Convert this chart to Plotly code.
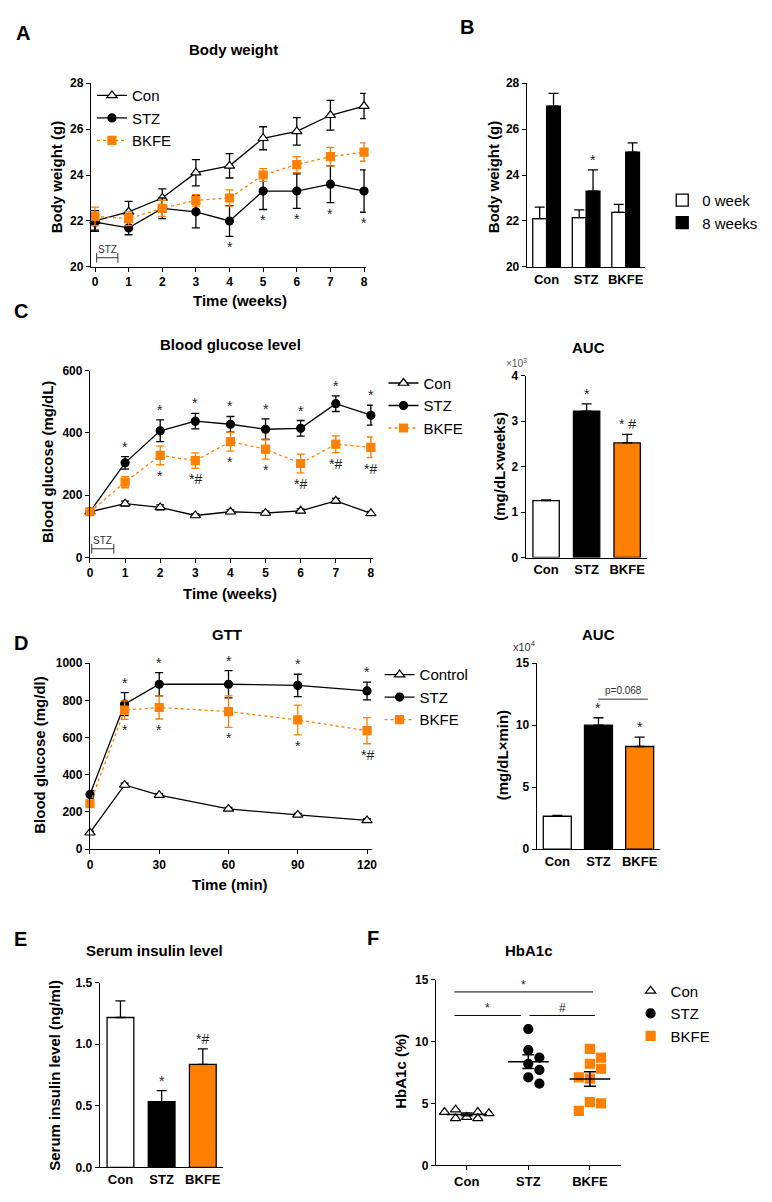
import plotly.graph_objects as go

W, H = 772, 1202
FONT = "Arial, Liberation Sans, sans-serif"
ORANGE = "#FF8000"

# ---- A: body weight over time ----
weeks = [0, 1, 2, 3, 4, 5, 6, 7, 8]
bw_con = [22.0, 22.4, 23.0, 24.1, 24.4, 25.6, 25.9, 26.6, 27.0]
bw_con_err = [0.45, 0.45, 0.4, 0.57, 0.53, 0.5, 0.6, 0.65, 0.55]
bw_stz = [21.95, 21.7, 22.55, 22.4, 22.0, 23.3, 23.3, 23.6, 23.3]
bw_stz_err = [0.35, 0.3, 0.45, 0.7, 0.67, 0.8, 0.75, 0.8, 0.92]
bw_bkfe = [22.2, 22.1, 22.55, 22.9, 23.0, 24.0, 24.45, 24.8, 25.0]
bw_bkfe_err = [0.4, 0.3, 0.35, 0.25, 0.35, 0.28, 0.35, 0.4, 0.4]
bw_sig_stz = ["", "", "", "", "*", "*", "*", "*", "*"]

# ---- B: body weight 0 vs 8 weeks ----
groups = ["Con", "STZ", "BKFE"]
bw_wk0 = [22.1, 22.15, 22.37]
bw_wk0_err = [0.5, 0.33, 0.35]
bw_wk8 = [27.0, 23.3, 25.0]
bw_wk8_err = [0.55, 0.92, 0.4]
bw_wk8_sig = ["", "*", ""]

# ---- C: blood glucose over time ----
bg_con = [147, 173, 161, 135, 147, 143, 150, 182, 142]
bg_con_err = [5, 8, 8, 6, 6, 6, 6, 8, 6]
bg_stz = [147, 304, 407, 438, 428, 412, 415, 494, 457]
bg_stz_err = [5, 20, 35, 25, 25, 33, 25, 25, 32]
bg_bkfe = [147, 242, 328, 311, 372, 348, 302, 364, 354]
bg_bkfe_err = [5, 18, 30, 25, 30, 32, 30, 27, 33]
bg_sig_stz = ["", "*", "*", "*", "*", "*", "*", "*", "*"]
bg_sig_bkfe = ["", "", "*", "*#", "*", "*", "*#", "*#", "*#"]

bg_auc = [1.25, 3.22, 2.52]
bg_auc_err = [0.02, 0.16, 0.19]
bg_auc_sig = ["", "*", "* #"]

# ---- D: GTT ----
gtt_time = [0, 15, 30, 60, 90, 120]
gtt_con = [88, 345, 290, 216, 184, 154]
gtt_con_err = [8, 10, 8, 8, 8, 8]
gtt_stz = [294, 780, 887, 887, 881, 851]
gtt_stz_err = [20, 62, 63, 73, 60, 48]
gtt_bkfe = [244, 748, 762, 740, 695, 637]
gtt_bkfe_err = [20, 50, 62, 85, 80, 70]
gtt_sig_stz = ["", "*", "*", "*", "*", "*"]
gtt_sig_bkfe = ["", "*", "*", "*", "*", "*#"]

gtt_auc = [2.65, 10.0, 8.28]
gtt_auc_err = [0.07, 0.6, 0.75]
gtt_auc_sig = ["", "*", "*"]
gtt_p_text = "p=0.068"

# ---- E: serum insulin ----
insulin = [1.216, 0.533, 0.836]
insulin_err = [0.135, 0.09, 0.126]
insulin_sig = ["", "*", "*#"]

# ---- F: HbA1c ----
hba_con = [3.9, 4.3, 3.8, 4.2, 4.3, 3.8, 4.5]
hba_stz = [11.0, 9.3, 8.7, 8.2, 7.7, 7.1, 6.6]
hba_bkfe = [9.4, 8.7, 8.2, 7.8, 7.0, 7.1, 5.1, 5.0, 4.4]


def dx(a, b):
    return [a / W, b / W]


def dy(top, bottom):
    return [1 - bottom / H, 1 - top / H]


def swarm(vals, px_cat, px_unit, mind=9.0, step=0.18):
    placed = []
    offs = []
    for v in vals:
        best, best_d = 0, -1
        for k in [0, 1, -1, 2, -2]:
            o = k * step
            d = min([(((o - po) * px_cat) ** 2 + ((v - pv) * px_unit) ** 2) ** 0.5
                     for po, pv in placed] or [99])
            if d >= mind:
                best = o
                break
            if d > best_d:
                best, best_d = o, d
        placed.append((best, v))
        offs.append(best)
    return offs


fig = go.Figure()
ann = []


def line(x, y, err, name, color, symbol, fill, dash, n, legend, size=8):
    fig.add_trace(go.Scatter(
        x=x, y=y, name=name, mode="lines+markers", legend=legend,
        xaxis="x%s" % n, yaxis="y%s" % n, cliponaxis=False,
        line=dict(color=color, width=1.3, dash=dash),
        marker=dict(symbol=symbol, size=size, color=fill, line=dict(color=color, width=1.2)),
        error_y=dict(type="data", array=err, color=color, thickness=1.3, width=4)))


def bars(x, y, err, color, n, width=0.65, offset=None, name=None, legend=None):
    fig.add_trace(go.Bar(
        x=x, y=y, width=width, offset=offset, name=name, legend=legend,
        showlegend=name is not None,
        xaxis="x%s" % n, yaxis="y%s" % n,
        marker=dict(color=color, line=dict(color="black", width=1.3)),
        error_y=dict(type="data", symmetric=False, array=err, arrayminus=[0] * len(err),
                     color="black", thickness=1.3, width=5)))


def sig(x, y, labels, n, above=True):
    for xi, yi, t in zip(x, y, labels):
        if t:
            ann.append(dict(x=xi, y=yi, xref="x%s" % n, yref="y%s" % n, text=t,
                            showarrow=False,
                            yanchor="bottom" if above else "top",
                            yshift=0 if above else -1,
                            font=dict(size=14, color="#222")))


def stz_bracket(n, yv):
    fig.add_trace(go.Scatter(
        x=[0.05, 0.68], y=[yv, yv], mode="lines+markers", showlegend=False,
        xaxis="x%s" % n, yaxis="y%s" % n, cliponaxis=False,
        line=dict(color="#333", width=1),
        marker=dict(symbol="line-ns", size=7, line=dict(color="#333", width=1))))
    ann.append(dict(x=0.36, y=yv, xref="x%s" % n, yref="y%s" % n, text="STZ",
                    showarrow=False, yanchor="bottom", yshift=1,
                    font=dict(size=10, color="#333")))


# A
line(weeks, bw_con, bw_con_err, "Con", "black", "triangle-up", "white", "solid", "", "legend", 9)
line(weeks, bw_stz, bw_stz_err, "STZ", "black", "circle", "black", "solid", "", "legend")
line(weeks, bw_bkfe, bw_bkfe_err, "BKFE", ORANGE, "square", ORANGE, "dot", "", "legend")
sig(weeks, [m - e for m, e in zip(bw_stz, bw_stz_err)], bw_sig_stz, "", above=False)
stz_bracket("", 20.4)

# B
gx = list(range(len(groups)))
bars(gx, bw_wk0, bw_wk0_err, "white", 2, width=0.35, offset=-0.35, name="0 week", legend="legend2")
bars(gx, bw_wk8, bw_wk8_err, "black", 2, width=0.35, offset=0, name="8 weeks", legend="legend2")
sig([g + 0.175 for g in gx], [m + e for m, e in zip(bw_wk8, bw_wk8_err)], bw_wk8_sig, 2)

# C
line(weeks, bg_con, bg_con_err, "Con", "black", "triangle-up", "white", "solid", 3, "legend3", 9)
line(weeks, bg_stz, bg_stz_err, "STZ", "black", "circle", "black", "solid", 3, "legend3")
line(weeks, bg_bkfe, bg_bkfe_err, "BKFE", ORANGE, "square", ORANGE, "dot", 3, "legend3")
sig(weeks, [m + e for m, e in zip(bg_stz, bg_stz_err)], bg_sig_stz, 3)
sig(weeks, [m - e for m, e in zip(bg_bkfe, bg_bkfe_err)], bg_sig_bkfe, 3, above=False)
stz_bracket(3, 28)

bars(gx, bg_auc, bg_auc_err, ["white", "black", ORANGE], 4)
sig(gx, [m + e for m, e in zip(bg_auc, bg_auc_err)], bg_auc_sig, 4)

# D
line(gtt_time, gtt_con, gtt_con_err, "Control", "black", "triangle-up", "white", "solid", 5, "legend4", 9)
line(gtt_time, gtt_stz, gtt_stz_err, "STZ", "black", "circle", "black", "solid", 5, "legend4")
line(gtt_time, gtt_bkfe, gtt_bkfe_err, "BKFE", ORANGE, "square", ORANGE, "dot", 5, "legend4")
sig(gtt_time, [m + e for m, e in zip(gtt_stz, gtt_stz_err)], gtt_sig_stz, 5)
sig(gtt_time, [m - e for m, e in zip(gtt_bkfe, gtt_bkfe_err)], gtt_sig_bkfe, 5, above=False)

bars(gx, gtt_auc, gtt_auc_err, ["white", "black", ORANGE], 6, width=0.68)
sig(gx, [m + e for m, e in zip(gtt_auc, gtt_auc_err)], gtt_auc_sig, 6)
p_y = max(m + e for m, e in zip(gtt_auc, gtt_auc_err)) + 1.5
fig.add_shape(type="line", x0=1.0, x1=2.2, y0=p_y, y1=p_y, xref="x6", yref="y6",
              line=dict(color="#333", width=1))
ann.append(dict(x=1.6, y=p_y, xref="x6", yref="y6", text=gtt_p_text, showarrow=False,
                yanchor="bottom", yshift=1, font=dict(size=10, color="#333")))

# E
bars(gx, insulin, insulin_err, ["white", "black", ORANGE], 7)
sig(gx, [m + e for m, e in zip(insulin, insulin_err)], insulin_sig, 7)

# F
f_sets = [("Con", hba_con, "triangle-up-open", "black"),
          ("STZ", hba_stz, "circle", "black"),
          ("BKFE", hba_bkfe, "square", ORANGE)]
for i, (nm, vals, sym, col) in enumerate(f_sets):
    offs = swarm(vals, 62.3, 12.55)
    fig.add_trace(go.Scatter(
        x=[i + o for o in offs], y=vals, mode="markers", name=nm, legend="legend5",
        xaxis="x8", yaxis="y8", cliponaxis=False,
        marker=dict(symbol=sym, size=9, color=col, line=dict(color=col, width=1.2))))
for i, (nm, vals, sym, col) in enumerate(f_sets):
    n = len(vals)
    m = sum(vals) / n
    sd = (sum((v - m) ** 2 for v in vals) / (n - 1)) ** 0.5
    fig.add_trace(go.Scatter(x=[i - 0.33, i + 0.33], y=[m, m], mode="lines", showlegend=False,
                             xaxis="x8", yaxis="y8", line=dict(color="black", width=1.5)))
    fig.add_trace(go.Scatter(x=[i], y=[m], mode="markers", showlegend=False,
                             xaxis="x8", yaxis="y8", marker=dict(size=1, color="rgba(0,0,0,0)"),
                             error_y=dict(type="data", array=[sd / n ** 0.5], color="black",
                                          thickness=1.5, width=6)))
# brackets: (group i, group j, level, label)
f_brackets = [(0, 2, 14.0, "*"), (0, 1, 12.1, "*"), (1, 2, 12.1, "#")]
for i, j, lv, t in f_brackets:
    x0 = i - 0.2 if i == 0 else i + 0.02
    x1 = j + 0.05 if j == 2 and i == 0 else (j + 0.08 if j == 2 else j - 0.12)
    fig.add_shape(type="line", x0=x0, x1=x1, y0=lv, y1=lv, xref="x8", yref="y8",
                  line=dict(color="black", width=1))
    ann.append(dict(x=(x0 + x1) / 2, y=lv, xref="x8", yref="y8", text=t, showarrow=False,
                    yanchor="bottom", yshift=-2, font=dict(size=12, color="#222")))

# ---- axes ----
base = dict(showline=True, linecolor="black", linewidth=1.3, ticks="outside", ticklen=4,
            tickwidth=1.3, tickcolor="black", showgrid=False, zeroline=False, fixedrange=True,
            tickfont=dict(size=12, color="black", weight="bold"))
cat = dict(base, tickvals=gx, ticktext=groups, range=[-0.5, 2.5], ticks="",
           tickfont=dict(size=13, color="black", weight="bold"))

lay = {}
lay["xaxis"] = dict(base, domain=dx(89, 367), range=[-0.12, 8.05], dtick=1, anchor="y")
lay["yaxis"] = dict(base, domain=dy(77, 263), range=[20, 28], dtick=2, anchor="x")
lay["xaxis2"] = dict(cat, domain=dx(530, 650), anchor="y2")
lay["yaxis2"] = dict(base, domain=dy(77, 263), range=[20, 28], dtick=2, anchor="x2")
lay["xaxis3"] = dict(base, domain=dx(88, 374), range=[0, 8.05], dtick=1, anchor="y3")
lay["yaxis3"] = dict(base, domain=dy(368, 557), range=[0, 600], dtick=200, anchor="x3")
lay["xaxis4"] = dict(cat, domain=dx(529, 652), anchor="y4")
lay["yaxis4"] = dict(base, domain=dy(373, 557), range=[0, 4], dtick=1, anchor="x4")
lay["xaxis5"] = dict(base, domain=dx(88, 373), range=[0, 122], tickvals=[0, 30, 60, 90, 120], anchor="y5")
lay["yaxis5"] = dict(base, domain=dy(664, 852), range=[0, 1000], dtick=200, anchor="x5")
lay["xaxis6"] = dict(cat, domain=dx(540, 665), anchor="y6")
lay["yaxis6"] = dict(base, domain=dy(664, 852), range=[0, 15], dtick=5, anchor="x6")
lay["xaxis7"] = dict(cat, domain=dx(98, 223), anchor="y7")
lay["yaxis7"] = dict(base, domain=dy(987, 1174), range=[0, 1.5], dtick=0.5, tickformat=".1f", anchor="x7")
lay["xaxis8"] = dict(cat, domain=dx(438, 625), ticks="outside", anchor="y8")
lay["yaxis8"] = dict(base, domain=dy(984, 1172), range=[0, 15], dtick=5, anchor="x8")


def txt(x, y, t, size=15, bold=True, angle=0, color="black"):
    ann.append(dict(x=x / W, y=1 - y / H, xref="paper", yref="paper", text=t, showarrow=False,
                    textangle=angle, xanchor="center", yanchor="middle",
                    font=dict(size=size, color=color, weight="bold" if bold else "normal")))


# panel letters
for letter, x, y in [("A", 20, 26), ("B", 469, 20), ("C", 18, 308),
                     ("D", 18, 643), ("E", 18, 943), ("F", 374, 942)]:
    txt(x, y, letter, size=20)
# titles
for t, x, y in [("Body weight", 233, 43), ("Blood glucose level", 230, 341), ("AUC", 592, 345),
                ("GTT", 227, 635), ("AUC", 603, 635), ("Serum insulin level", 153, 955),
                ("HbA1c", 532, 955)]:
    txt(x, y, t, size=15)
# axis titles
txt(240, 297, "Time (weeks)", 15)
txt(230, 593, "Time (weeks)", 15)
txt(230, 888, "Time (min)", 15)
txt(55, 172, "Body weight (g)", 15, angle=-90)
txt(497, 172, "Body weight (g)", 15, angle=-90)
txt(45, 460, "Blood glucose (mg/dL)", 15, angle=-90)
txt(502, 465, "(mg/dL×weeks)", 15, angle=-90)
txt(37, 757, "Blood glucose (mg/dl)", 15, angle=-90)
txt(505, 757, "(mg/dL×min)", 15, angle=-90)
txt(52, 1081, "Serum insulin level (ng/ml)", 15, angle=-90)
txt(402, 1077, "HbA1c (%)", 15, angle=-90)
txt(520, 360, "×10<sup>3</sup>", 10, bold=False, color="#555")
txt(528, 647, "x10<sup>4</sup>", 11, bold=False, color="#333")

leg = dict(bgcolor="rgba(0,0,0,0)", font=dict(size=15, color="black"), xanchor="left",
           yanchor="top", xref="paper", yref="paper", itemclick=False, itemdoubleclick=False,
           tracegroupgap=0)
lay["legend"] = dict(leg, x=90 / W, y=1 - 73 / H)
lay["legend2"] = dict(leg, x=667 / W, y=1 - 179 / H)
lay["legend3"] = dict(leg, x=385 / W, y=1 - 364 / H)
lay["legend4"] = dict(leg, x=381 / W, y=1 - 659 / H)
lay["legend5"] = dict(leg, x=635 / W, y=1 - 979 / H)

fig.update_layout(
    width=W, height=H, margin=dict(l=0, r=0, t=0, b=0),
    paper_bgcolor="white", plot_bgcolor="white",
    font=dict(family=FONT, color="black"),
    barmode="overlay", annotations=ann, **lay)

# page body has a default 8px margin; drop it so the figure fills the window
fig.write_html("out.html", config={"displayModeBar": False},
               post_script="document.body.style.margin='0px';document.body.style.overflow='hidden';")
